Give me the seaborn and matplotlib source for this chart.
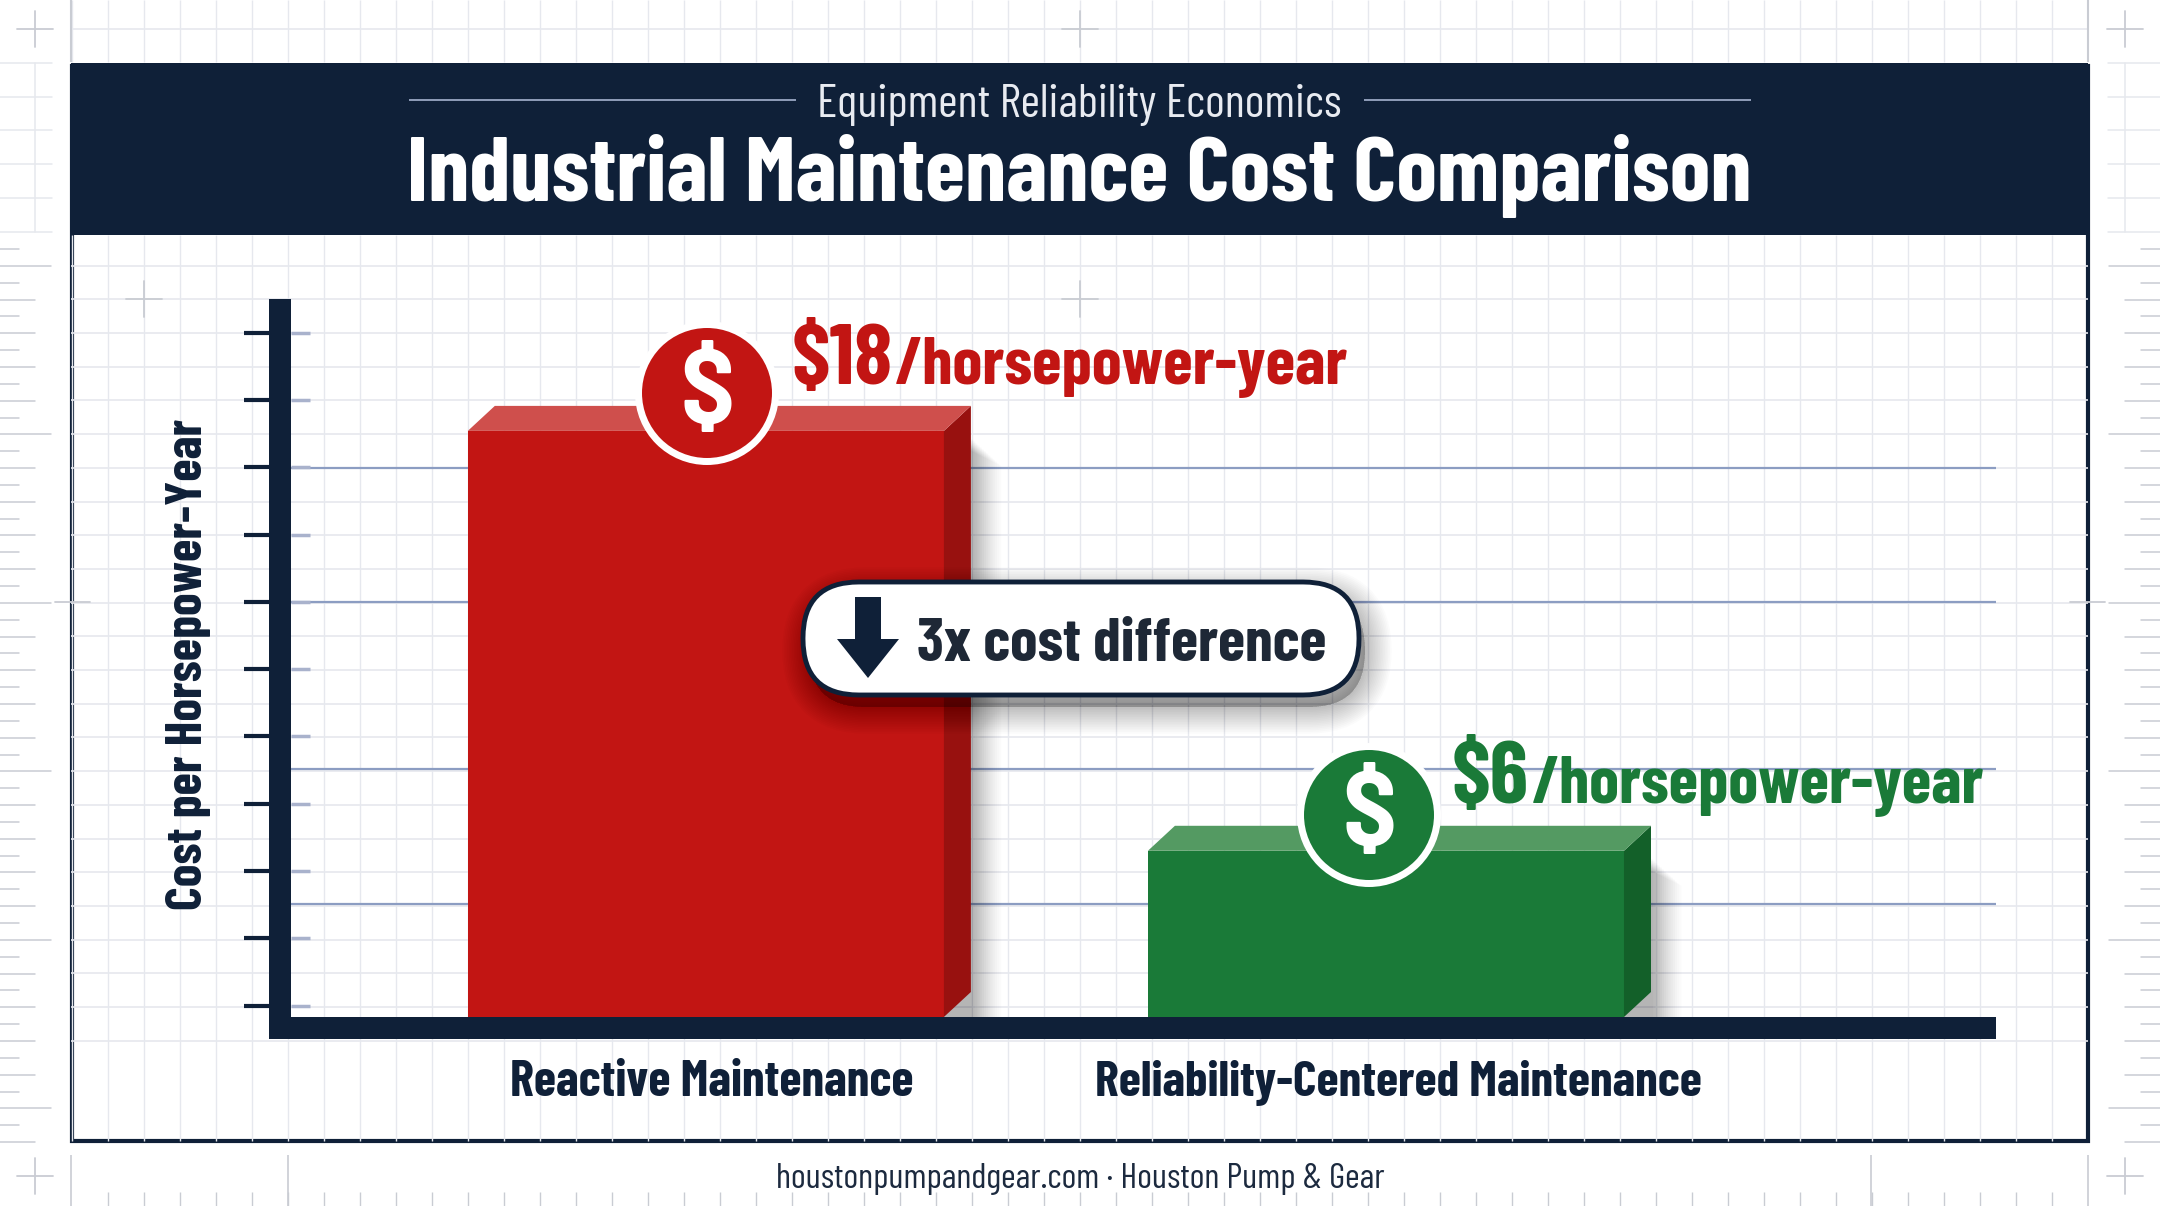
import numpy as np
import pandas as pd
import seaborn as sns
import matplotlib.pyplot as plt
from matplotlib.patches import Circle, FancyBboxPatch, Polygon, Rectangle

categories = ['Reactive Maintenance', 'Reliability-Centered Maintenance']
# stated costs, only used in the labels
cost_labels = ['$18', '$6']
unit_label = '/horsepower-year'
# bar heights as drawn, in tick spacings (the picture is not to scale with the stated costs)
bar_heights = [8.71, 2.47]
bar_colors = ['#c21513', '#1a7a38']
side_colors = ['#98110f', '#136029']
top_colors = ['#cf4f4c', '#549a62']
tick_levels = [0.17, 1.17, 2.17, 3.17, 4.17, 5.17, 6.17, 7.17, 8.17, 9.17, 10.17]
rule_levels = [1.68, 3.69, 6.17, 8.16]

NAVY = '#0f2038'
GRID = '#e6e8ee'
MARK = '#c9ccd3'
RULE = '#8c9dc2'
NARROW = ['Barlow Condensed', 'Liberation Sans', 'DejaVu Sans']

sns.set_theme(style='white')
plt.rcParams['font.family'] = NARROW

W, H = 2160, 1206
fig = plt.figure(figsize=(W / 100, H / 100), dpi=100, facecolor='white')


def fit(txt, px):
    # scale the font so the text comes out px wide
    w = txt.get_window_extent(fig.canvas.get_renderer()).width
    txt.set_fontsize(txt.get_fontsize() * px / w)
    return txt


# background sheet
bg = fig.add_axes([0, 0, 1, 1], zorder=0)
bg.set_xlim(0, W)
bg.set_ylim(H, 0)
bg.axis('off')

grid_x = np.arange(72, 2088, 36)
grid_y = np.arange(265.7, 1045, 33.7)
bg.vlines(grid_x, 0, 62, color=GRID, lw=1)
bg.hlines(29, 71, 2088, color=GRID, lw=1.2)
bg.vlines(grid_x, 235, 1141, color=GRID, lw=1)
bg.hlines(grid_y, 71, 2088, color=GRID, lw=1.2)
bg.vlines(grid_x[1:], 1192, H, color=MARK, lw=1)
bg.vlines([71, 288, 1871, 2088], 1155, H, color=MARK, lw=1.2)
bg.vlines([71, 2088], 0, 62, color=MARK, lw=1.5)

# rulers down both sides
for side in [0, 1]:
    for i, y in enumerate(np.arange(249, 1143, 16.85)):
        n = 19 if i % 2 == 0 else (51 if (i - 1) % 10 == 0 else 35)
        x0, x1 = (0, n) if side == 0 else (W - n, W)
        bg.plot([x0, x1], [y, y], color=MARK, lw=1.1)
    for y in np.arange(63, 235, 33.7):
        x0, x1 = (0, 52) if side == 0 else (W - 52, W)
        bg.plot([x0, x1], [y, y], color=GRID, lw=1.1)
    xb = 35 if side == 0 else W - 35
    bg.plot([xb, xb], [63, 232], color=GRID, lw=1.1)

for cx, cy in [(35, 29), (1080, 29), (2125, 29), (35, 1176), (2125, 1176), (144, 299), (1080, 299)]:
    bg.plot([cx - 18, cx + 18], [cy, cy], color=MARK, lw=1.3)
    bg.plot([cx, cx], [cy - 18, cy + 18], color=MARK, lw=1.3)
bg.plot([55, 90], [602, 602], color=MARK, lw=1.3)
bg.plot([2070, 2105], [602, 602], color=MARK, lw=1.3)

bg.add_patch(Rectangle((72, 66), 2016, 1075, fill=False, ec=NAVY, lw=3))
bg.add_patch(Rectangle((71, 63), 2017, 172, fc=NAVY, ec='none'))
bg.hlines(100, 409, 796, color='#9aa8c4', lw=1.3)
bg.hlines(100, 1364, 1751, color='#9aa8c4', lw=1.3)
fit(bg.text(1079, 105, 'Equipment Reliability Economics', color='#e8ebf1',
            ha='center', va='center', fontsize=30), 524)
fit(bg.text(1079, 176, 'Industrial Maintenance Cost Comparison', color='white',
            ha='center', va='center', fontweight='bold', fontsize=60), 1344)
fit(bg.text(1080, 1179, 'houstonpumpandgear.com · Houston Pump & Gear', color='#1c2a3f',
            ha='center', va='center', fontsize=24), 608)

# chart
ax = fig.add_axes([291 / W, 1 - 1017 / H, (1996 - 291) / W, (1017 - 299) / H], zorder=1)
ax.patch.set_alpha(0)
df = pd.DataFrame({'category': categories, 'height': bar_heights})
sns.barplot(data=df, x='category', y='height', hue='category', palette=bar_colors,
            saturation=1, width=0.7, legend=False, ax=ax, zorder=3, edgecolor='none', linewidth=0)
ax.set_xlim(-0.61, 1.897)
ax.set_ylim(0, 10.67)

ax.hlines(rule_levels, 0, 1, transform=ax.get_yaxis_transform(), color=RULE, lw=1.6, zorder=1)
ax.hlines(tick_levels, 0, 0.011, transform=ax.get_yaxis_transform(), color='#a9b2cc', lw=2.5, zorder=1)

# extruded side, top and soft shadow built from the bars themselves
dx, dy = 27 / 680, 25 / 67.3
for bar, top_c, side_c in zip(ax.patches, top_colors, side_colors):
    x0, x1, h = bar.get_x(), bar.get_x() + bar.get_width(), bar.get_height()
    for k in range(1, 15):
        ax.add_patch(Polygon([(x1, 0), (x1 + dx + k * 0.0032, 0),
                              (x1 + dx + k * 0.0032, h - 0.1 - k * 0.03), (x1, h - 0.1)],
                             fc='black', ec='none', alpha=0.014 + 0.0012 * (15 - k), zorder=2))
    ax.add_patch(Polygon([(x1, 0), (x1 + dx, dy), (x1 + dx, h + dy), (x1, h)],
                         fc=side_c, ec='none', zorder=3))
    ax.add_patch(Polygon([(x0, h), (x0 + dx, h + dy), (x1 + dx, h + dy), (x1, h)],
                         fc=top_c, ec='none', zorder=3))

sns.despine(ax=ax, top=True, right=True)
for name in ['left', 'bottom']:
    ax.spines[name].set_color(NAVY)
    ax.spines[name].set_linewidth(22 * 0.72)
    ax.spines[name].set_position(('outward', 11 * 0.72))
    ax.spines[name].set_capstyle('butt')
ax.spines['left'].set_bounds(-22 / 67.3, 10.67)
ax.tick_params(axis='y', left=True, length=25 * 0.72 + 8, width=3, color=NAVY, labelleft=False)
ax.set_yticks(tick_levels)
ax.tick_params(axis='x', bottom=False, pad=17)
ax.set_xticks([0.008, 1.018], categories)
ax.set_xlabel('')
for lab, px in zip(ax.get_xticklabels(), [405, 610]):
    lab.set_fontweight('bold')
    lab.set_color(NAVY)
    fit(lab, px)
ax.set_ylabel('Cost per Horsepower-Year', color=NAVY, fontweight='bold', fontsize=36)
ax.yaxis.set_label_coords(-80 / (1996 - 291), (1017 - 664) / (1017 - 299))
label_h = ax.yaxis.label.get_window_extent(fig.canvas.get_renderer()).height
ax.yaxis.label.set_fontsize(36 * 490 / label_h)

# overlay: coins, value labels, callout
ov = fig.add_axes([0, 0, 1, 1], zorder=2)
ov.set_xlim(0, W)
ov.set_ylim(H, 0)
ov.axis('off')

coins = [(707, 393), (1369, 815)]
label_x = [(792, 895, 101, 453), (1452, 1532, 77, 452)]
base_y = [384, 803]
for i, (cx, cy) in enumerate(coins):
    ov.add_patch(Circle((cx, cy), 72, fc='white', ec='none'))
    ov.add_patch(Circle((cx, cy), 65, fc=bar_colors[i], ec='none'))
    ov.text(cx, cy + 3, '$', color='white', ha='center', va='center',
            fontweight='bold', fontsize=76, family=['Barlow Semi Condensed', 'Barlow', 'Liberation Sans', 'DejaVu Sans'])
    x_big, x_unit, w_big, w_unit = label_x[i]
    fit(ov.text(x_big, base_y[i], cost_labels[i], color=bar_colors[i], va='baseline',
                fontweight='bold', fontsize=60), w_big)
    fit(ov.text(x_unit, base_y[i], unit_label, color=bar_colors[i], va='baseline',
                fontweight='bold', fontsize=40), w_unit)

# soft shadow, widest and faintest first
for k in range(16, 0, -1):
    ov.add_patch(FancyBboxPatch((809, 594), 556, 113, boxstyle='round,pad=0,rounding_size=56',
                                fc='black', ec='black', lw=k * 2.4, alpha=0.016))
ov.add_patch(FancyBboxPatch((803, 582), 556, 113, boxstyle='round,pad=0,rounding_size=56',
                            fc='white', ec=NAVY, lw=3.5))
ov.add_patch(Polygon([(855, 597), (881, 597), (881, 639), (899, 639), (868, 678), (837, 639), (855, 639)],
                     fc=NAVY, ec='none'))
fit(ov.text(917, 645, '3x cost difference', color='#1e2836', va='center',
            fontweight='bold', fontsize=40), 410)

fig.savefig('out.png', dpi=100)
